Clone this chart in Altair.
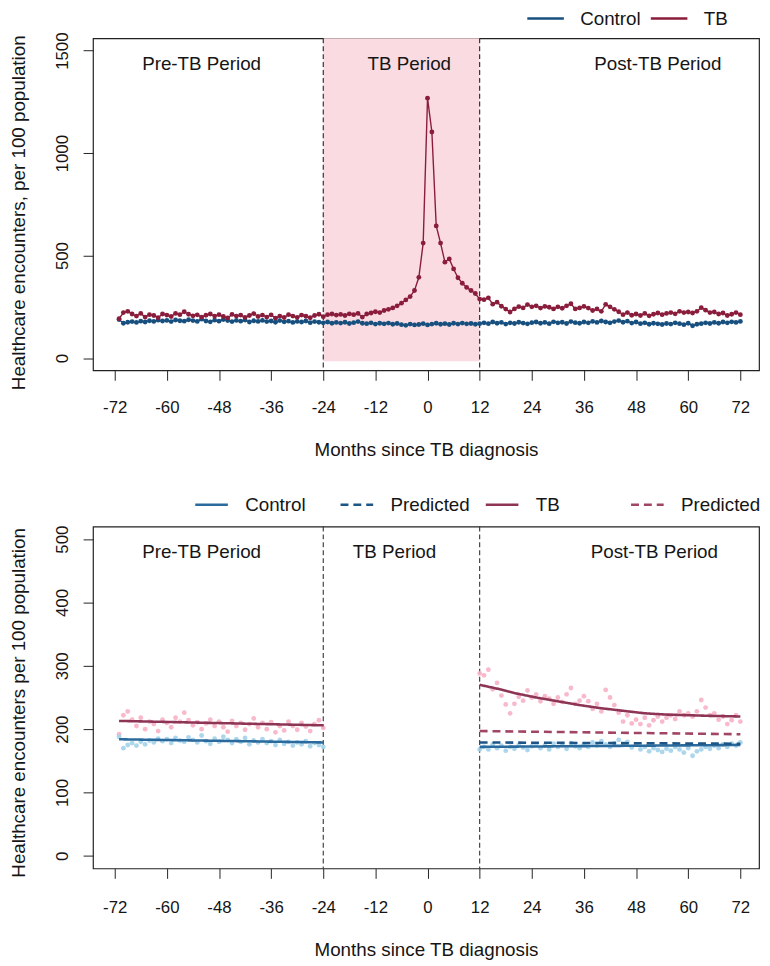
import altair as alt
import pandas as pd

FONT = "Liberation Sans"

# ---------------- data ----------------
months = list(range(-71, 73))

tb_values = [
    # -71 .. -25
    192, 222, 228, 215, 205, 218, 200, 212, 208, 197,
    215, 210, 203, 218, 212, 226, 214, 206, 211, 200,
    209, 215, 205, 212, 203, 196, 213, 205, 210, 199,
    208, 217, 203, 210, 200, 211, 195, 205, 198, 212,
    205, 199, 210, 204, 197, 208, 214,
    # -24 .. 12
    202, 212, 215, 210, 213, 208, 216, 212, 218, 200,
    215, 220, 226, 222, 232, 238, 245, 255, 268, 284,
    300, 330, 394, 561, 1268, 1103, 645, 561, 468, 484,
    435, 392, 365, 345, 330, 315, 288,
    # 13 .. 72
    285, 294, 263, 273, 253, 239, 225, 240, 251, 245,
    261, 250, 255, 244, 252, 248, 240, 250, 243, 255,
    265, 240, 245, 252, 244, 232, 240, 228, 262, 250,
    238, 226, 212, 222, 209, 215, 208, 218, 206, 214,
    220, 212, 218, 222, 216, 228, 222, 225, 220, 228,
    246, 234, 222, 225, 215, 220, 208, 214, 222, 212,
]

control_values = [
    # -71 .. -25
    188, 170, 175, 178, 174, 180, 176, 182, 179, 185,
    181, 184, 178, 186, 182, 180, 187, 183, 179, 190,
    181, 177, 185, 180, 188, 183, 178, 184, 180, 186,
    176, 182, 179, 184, 178, 181, 175, 183, 177, 180,
    174, 179, 176, 181, 173, 178, 175,
    # -24 .. 12
    172, 176, 170, 174, 171, 175, 169, 173, 178, 170,
    168, 172, 166, 170, 167, 171, 165, 169, 163, 160,
    166, 162, 164, 168, 162, 166, 170, 165, 168, 164,
    170, 166, 171, 167, 169, 165, 168,
    # 13 .. 72
    172, 168, 176, 170, 174, 166, 172, 169, 175, 171,
    167, 173, 176, 170, 174, 168, 177, 172, 175, 169,
    178, 173, 170, 176, 172, 179, 174, 181, 176, 172,
    178, 183, 175, 180, 171, 176, 168, 172, 165, 170,
    167, 164, 169, 166, 172, 168, 163, 170, 158, 165,
    168, 172, 169, 174, 170, 176, 172, 177, 174, 179,
]

x_ticks = [-72, -60, -48, -36, -24, -12, 0, 12, 24, 36, 48, 60, 72]
y_ticks_top = [0, 500, 1000, 1500]
y_ticks_bottom = [0, 100, 200, 300, 400, 500]

period_names = ["Pre-TB Period", "TB Period", "Post-TB Period"]
period_x_top = [-52, -4.2, 53]
period_y_top = [1435, 1435, 1435]
period_x_bottom = [-52, -7.6, 52.2]
period_y_bottom = [480, 480, 480]

period_bounds = [-24, 12]
tb_window = {"start": -24, "end": 12, "low": -15, "high": 1560}

# fitted / predicted lines (bottom panel)
pre_fit_months = [-71, -24]
tb_pre_fit = [213, 206]
control_pre_fit = [184, 179]
post_fit_months = [12, 16, 20, 25, 30, 35, 40, 45, 50, 55, 60, 65, 72]
tb_post_fit = [270, 264, 257, 250, 244, 238, 233, 229, 225, 223, 222, 221, 220]
post_line_months = [12, 72]
control_post_fit = [172, 175]
tb_predicted = [197, 192]
control_predicted = [179, 177]

# ---------------- styles ----------------
BLUE = "#17507f"
RED = "#8a1c3c"
PINK_BG = "#fadbe1"
BLUE_FIT = "#2b6a9c"
BLUE_PRED = "#1c5586"
RED_FIT = "#8e3555"
RED_PRED = "#a14565"
PINK_PT = "#f7b3c5"
BLUE_PT = "#a3d2ea"
TXT = "#151515"

W = 674
H_TOP = 336
H_BOT = 346
X_DOMAIN = [-77, 76.3]

xscale = alt.Scale(domain=X_DOMAIN, nice=False, zero=False)
X_LABEL_EXPR = "datum.value < 0 ? '-' + (-datum.value) : '' + datum.value"


def x_axis(ty, lp):
    return alt.Axis(values=x_ticks, title="Months since TB diagnosis", domain=False,
                    grid=False, ticks=True, tickSize=10, tickColor="#222",
                    labelPadding=lp, labelFontSize=17, titleFontSize=19,
                    titleFontWeight="normal", titleY=ty, titleBaseline="middle",
                    labelFlush=False, labelOverlap=False, labelColor=TXT,
                    titleColor=TXT, labelFont=FONT, titleFont=FONT,
                    labelExpr=X_LABEL_EXPR)


def y_axis(vals, title, ty):
    return alt.Axis(values=vals, title=title, domain=False, grid=False, format="d",
                    tickSize=10, tickColor="#222", labelAngle=270,
                    labelAlign="center", labelBaseline="bottom", labelPadding=12,
                    labelFontSize=17, titleFontSize=19, titleFontWeight="normal",
                    titleAngle=270, titleX=-75, titleY=ty, titleBaseline="middle",
                    titleAlign="center", labelFlush=False, labelColor=TXT,
                    titleColor=TXT, labelFont=FONT, titleFont=FONT)


def legend(x, y, cols, size, offset, pad):
    return alt.Legend(orient="none", legendX=x, legendY=y, direction="horizontal",
                      columns=cols, title=None, symbolType="stroke", symbolSize=size,
                      symbolStrokeWidth=2.5, labelFontSize=19, labelOffset=offset,
                      columnPadding=pad, padding=0, gridAlign="all", labelFont=FONT,
                      labelColor=TXT,
                      labelExpr="indexof(datum.label, 'Predicted') >= 0 ? 'Predicted' : datum.label")


# ---------------- top panel ----------------
xax_top = x_axis(80, 20)
top_df = pd.DataFrame({
    "month": months * 2,
    "value": control_values + tb_values,
    "series": ["Control"] * len(months) + ["TB"] * len(months),
})
ctrl_df = pd.DataFrame({"month": months, "value": control_values})
tb_df = pd.DataFrame({"month": months, "value": tb_values})
rect_df = pd.DataFrame([tb_window])
rule_df = pd.DataFrame({"month": period_bounds})
lab_top = pd.DataFrame({"name": period_names, "month": period_x_top, "value": period_y_top})

ytop = alt.Scale(domain=[-60, 1560], nice=False, zero=False)
yax_top = y_axis(y_ticks_top, "Healthcare encounters, per 100 population", 176)

rect_top = alt.Chart(rect_df).mark_rect(color=PINK_BG).encode(
    x=alt.X("start:Q", scale=xscale, axis=xax_top), x2="end:Q",
    y=alt.Y("low:Q", scale=ytop, axis=yax_top), y2="high:Q")

rules_top = alt.Chart(rule_df).mark_rule(color="#222", strokeDash=[5, 3], strokeWidth=1.1).encode(
    x=alt.X("month:Q", scale=xscale, axis=xax_top))

lines_top = alt.Chart(top_df).mark_line(strokeWidth=1.4).encode(
    x=alt.X("month:Q", scale=xscale, axis=xax_top),
    y=alt.Y("value:Q", scale=ytop, axis=yax_top),
    color=alt.Color("series:N",
                    scale=alt.Scale(domain=["Control", "TB"], range=[BLUE, RED]),
                    legend=legend(438, -40, 2, 1369, 15, 4)),
    detail="series:N")

pts_ctrl_top = alt.Chart(ctrl_df).mark_circle(size=24, opacity=1, color=BLUE).encode(
    x=alt.X("month:Q", scale=xscale, axis=xax_top),
    y=alt.Y("value:Q", scale=ytop, axis=yax_top))
pts_tb_top = alt.Chart(tb_df).mark_circle(size=24, opacity=1, color=RED).encode(
    x=alt.X("month:Q", scale=xscale, axis=xax_top),
    y=alt.Y("value:Q", scale=ytop, axis=yax_top))

text_top = alt.Chart(lab_top).mark_text(fontSize=19, font=FONT, color=TXT,
                                        align="center", baseline="middle").encode(
    x=alt.X("month:Q", scale=xscale, axis=xax_top),
    y=alt.Y("value:Q", scale=ytop, axis=yax_top), text="name:N")

top = alt.layer(rect_top, rules_top, lines_top, pts_ctrl_top, pts_tb_top, text_top).properties(
    width=W, height=H_TOP)

# ---------------- bottom panel ----------------
xax_bot = x_axis(82, 22)
in_pre = [m for m in months if m <= -24]
in_post = [m for m in months if m >= 12]
idx = {m: i for i, m in enumerate(months)}
tb_pts = pd.DataFrame({"month": in_pre + in_post,
                       "value": [tb_values[idx[m]] for m in in_pre + in_post]})
ctrl_pts = pd.DataFrame({"month": in_pre + in_post,
                         "value": [control_values[idx[m]] for m in in_pre + in_post]})

rows = []
for m, v in zip(pre_fit_months, tb_pre_fit):
    rows.append(("TB", "pre", m, v))
for m, v in zip(pre_fit_months, control_pre_fit):
    rows.append(("Control", "pre", m, v))
for m, v in zip(post_fit_months, tb_post_fit):
    rows.append(("TB", "post", m, v))
for m, v in zip(post_line_months, control_post_fit):
    rows.append(("Control", "post", m, v))
for m, v in zip(post_line_months, tb_predicted):
    rows.append(("TB Predicted", "post", m, v))
for m, v in zip(post_line_months, control_predicted):
    rows.append(("Control Predicted", "post", m, v))
fit_df = pd.DataFrame(rows, columns=["series", "segment", "month", "value"])
fit_df["key"] = fit_df["series"] + "_" + fit_df["segment"]

lab_bot = pd.DataFrame({"name": period_names, "month": period_x_bottom, "value": period_y_bottom})

ybot = alt.Scale(domain=[-20, 520], nice=False, zero=False)
yax_bot = y_axis(y_ticks_bottom, "Healthcare encounters per 100 population", 178)

series_order = ["Control", "Control Predicted", "TB", "TB Predicted"]

rules_bot = alt.Chart(rule_df).mark_rule(color="#333", strokeDash=[5, 3], strokeWidth=1.1).encode(
    x=alt.X("month:Q", scale=xscale, axis=xax_bot))

pts_tb_bot = alt.Chart(tb_pts).mark_circle(size=24, opacity=0.9, color=PINK_PT).encode(
    x=alt.X("month:Q", scale=xscale, axis=xax_bot),
    y=alt.Y("value:Q", scale=ybot, axis=yax_bot))
pts_ctrl_bot = alt.Chart(ctrl_pts).mark_circle(size=24, opacity=0.9, color=BLUE_PT).encode(
    x=alt.X("month:Q", scale=xscale, axis=xax_bot),
    y=alt.Y("value:Q", scale=ybot, axis=yax_bot))

bot_legend = legend(102, -40, 4, 1089, 16, 10)
fit_lines = alt.Chart(fit_df).mark_line(strokeWidth=2.6).encode(
    x=alt.X("month:Q", scale=xscale, axis=xax_bot),
    y=alt.Y("value:Q", scale=ybot, axis=yax_bot),
    color=alt.Color("series:N",
                    scale=alt.Scale(domain=series_order,
                                    range=[BLUE_FIT, BLUE_PRED, RED_FIT, RED_PRED]),
                    legend=bot_legend),
    strokeDash=alt.StrokeDash("series:N",
                              scale=alt.Scale(domain=series_order,
                                              range=[[1, 0], [8, 5], [1, 0], [8, 5]]),
                              legend=bot_legend),
    detail="key:N")

text_bot = alt.Chart(lab_bot).mark_text(fontSize=19, font=FONT, color=TXT,
                                        align="center", baseline="middle").encode(
    x=alt.X("month:Q", scale=xscale, axis=xax_bot),
    y=alt.Y("value:Q", scale=ybot, axis=yax_bot), text="name:N")

bottom = alt.layer(rules_bot, pts_tb_bot, pts_ctrl_bot, fit_lines, text_bot).properties(
    width=W, height=H_BOT)

chart = alt.vconcat(top, bottom, spacing=26).resolve_scale(
    color="independent", strokeDash="independent").properties(
    padding={"left": 1, "top": -16, "right": 0, "bottom": 0}
).configure_view(stroke="#222", strokeWidth=1.2)

chart.save("out.html", embed_options={"renderer": "svg", "actions": False})
